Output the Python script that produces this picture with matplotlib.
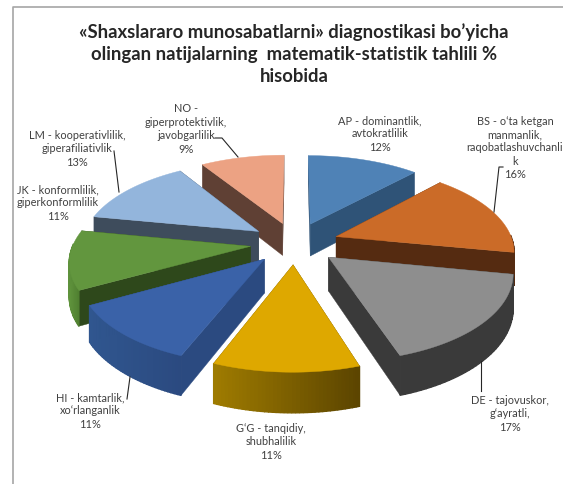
import numpy as np
import matplotlib
matplotlib.use('Agg')
import matplotlib.pyplot as plt
from matplotlib.colors import to_rgb

plt.rcParams['font.family'] = ['Lato', 'DejaVu Sans']

title = "«Shaxslararo munosabatlarni» diagnostikasi bo’yicha\nolingan natijalarning  matematik-statistik tahlili %\nhisobida"

# slices, clockwise from 12 o'clock
categories = [
    "AP - dominantlik,\navtokratlilik",
    "BS - o‘ta ketgan\nmanmanlik,\nraqobatlashuvchanli\nk",
    "DE - tajovuskor,\ng‘ayratli,",
    "G‘G - tanqidiy,\nshubhalilik",
    "HI - kamtarlik,\nxo‘rlanganlik",
    "JK - konformlilik,\ngiperkonformlilik",
    "LM - kooperativlilik,\ngiperafiliativlik",
    "NO -\ngiperprotektivlik,\njavobgarlilik",
]
values = [12, 16, 17, 11, 11, 11, 13, 9]

# styles per slice
top_colors = ['#4f82b6', '#cb6b28', '#8e8e8e', '#dea800', '#3a62a8', '#62963e', '#93b5dc', '#eca283']
cut_colors = ['#2f5377', '#552b11', '#3a3a3a', '#5c4500', '#2b4a80', '#2e481b', '#3e4c5c', '#5f4034']
wall_left = ['#2f5377', '#552b11', '#3a3a3a', '#a07c00', '#30568f', '#5f933c', '#3e4c5c', '#5f4034']
wall_right = ['#2f5377', '#552b11', '#3a3a3a', '#5c4500', '#2b4a80', '#4c7a2e', '#3e4c5c', '#5f4034']
label_pos = [(380, 134), (515, 148), (510, 414), (271, 442), (90, 411), (58, 203), (77, 149), (186, 129)]

# leader lines (pixels)
leaders = [
    [(215, 139), (222, 139), (238, 158)],
    [(114, 152), (119, 193)],
    [(503, 168), (499, 168), (494, 213)],
    [(481, 362), (481, 392)],
    [(130, 378), (127, 400)],
]

# projection settings, all in picture pixels
CX, CY = 294.5, 244
SCALE_X, SCALE_Y = 177, 84
PERSP = 0.15
EXPLODE = 0.25
DEPTH = 33


def project(u, v, down=0.0):
    w = 1 + PERSP * v
    return CX + SCALE_X * u / w, CY - SCALE_Y * v / w + DEPTH * down / w


def mix(c1, c2, t):
    a, b = np.array(to_rgb(c1)), np.array(to_rgb(c2))
    return tuple(a + (b - a) * t)


fig = plt.figure(figsize=(5.63, 4.85), dpi=100)
ax = fig.add_axes([0, 0, 1, 1])
ax.set_xlim(0, 563)
ax.set_ylim(485, 0)
ax.axis('off')

# chart frame
ax.plot([12.5, 12.5, 563], [485, 7.5, 7.5], color='#a6a6a6', lw=1.2)

edges = np.radians(np.concatenate([[0], np.cumsum(values)]) * 3.6)
mids = (edges[:-1] + edges[1:]) / 2
order = np.argsort(-np.cos(mids))  # back to front

for i in order:
    du, dv = EXPLODE * np.sin(mids[i]), EXPLODE * np.cos(mids[i])
    th = np.linspace(edges[i], edges[i + 1], 40)
    us = du + np.sin(th)
    vs = dv + np.cos(th)

    # the two cut faces
    for k in (0, -1):
        pts = [project(du, dv), project(us[k], vs[k]), project(us[k], vs[k], 1), project(du, dv, 1)]
        ax.fill(*zip(*pts), color=cut_colors[i], lw=0.3)

    # outer wall in thin strips so it can carry the gradient
    xs_top = [project(a, b)[0] for a, b in zip(us, vs)]
    x0, x1 = min(xs_top), max(xs_top)
    for j in range(len(th) - 1):
        if np.cos((th[j] + th[j + 1]) / 2) > 0.03:
            continue
        pts = [project(us[j], vs[j]), project(us[j + 1], vs[j + 1]),
               project(us[j + 1], vs[j + 1], 1), project(us[j], vs[j], 1)]
        t = (xs_top[j] - x0) / (x1 - x0)
        c = mix(wall_left[i], wall_right[i], t)
        ax.fill(*zip(*pts), color=c, lw=1.0)

    # top face
    pts = [project(du, dv)] + [project(a, b) for a, b in zip(us, vs)]
    ax.fill(*zip(*pts), color=top_colors[i], lw=0.3)

for line in leaders:
    ax.plot(*zip(*line), color='#262626', lw=0.8)

for name, val, pos in zip(categories, values, label_pos):
    ax.text(pos[0], pos[1], f"{name}\n{val}%", ha='center', va='center',
            fontsize=7.9, color='#404040', linespacing=1.27)

ax.text(294, 54, title, ha='center', va='center', fontsize=13.3, fontweight='bold',
        color='#262626', linespacing=1.36)

fig.savefig('out.png', dpi=100)
